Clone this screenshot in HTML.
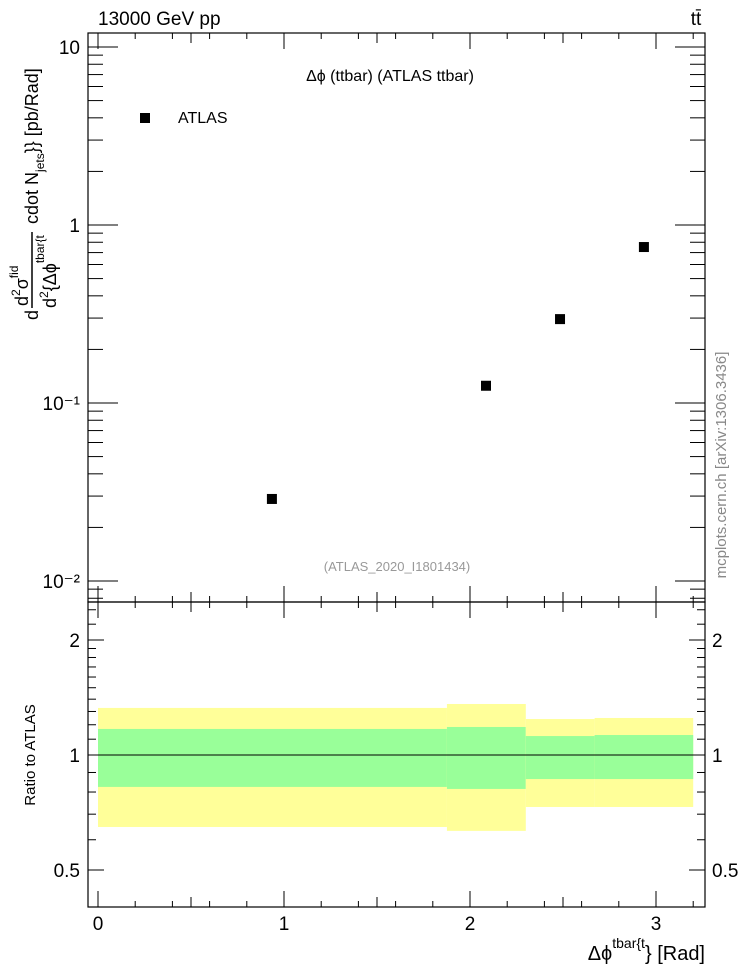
<!DOCTYPE html>
<html><head><meta charset="utf-8">
<style>
html,body{margin:0;padding:0;background:#fff;}
svg{display:block;font-family:"Liberation Sans",Arial,sans-serif;}
</style></head>
<body>
<svg id="chart" width="746" height="972" viewBox="0 0 746 972" xmlns="http://www.w3.org/2000/svg">
<g id="bands"></g>
<g id="ticks"></g>
<g id="points"></g>
<rect x="88" y="33" width="617" height="569" fill="none" stroke="#000" stroke-width="1.2"/>
<rect x="88" y="602" width="617" height="305" fill="none" stroke="#000" stroke-width="1.2"/>
<text x="98" y="25" font-size="19">13000 GeV pp</text>
<text x="696" y="25" font-size="19" text-anchor="middle">tt̄</text>
<text x="390" y="81" font-size="16" text-anchor="middle">Δϕ (ttbar) (ATLAS ttbar)</text>
<text x="397" y="571" font-size="13" fill="#999" text-anchor="middle">(ATLAS_2020_I1801434)</text>
<rect x="140" y="113" width="10" height="10" fill="#000"/>
<text x="178" y="123" font-size="16">ATLAS</text>
<text transform="translate(726,465) rotate(-90)" font-size="15" fill="#888" text-anchor="middle">mcplots.cern.ch [arXiv:1306.3436]</text>
<text transform="translate(35,755) rotate(-90)" font-size="15" text-anchor="middle">Ratio to ATLAS</text>
<g transform="translate(38,320) rotate(-90)" font-size="18">
<text x="0" y="0">d</text>
<line x1="12" y1="-6" x2="88" y2="-6" stroke="#000" stroke-width="1.5"/>
<text x="14" y="-10" font-size="18">d<tspan font-size="12" dy="-8">2</tspan><tspan dy="8">σ</tspan><tspan font-size="12" dy="-10">fid</tspan></text>
<text x="12" y="18" font-size="18">d<tspan font-size="12" dy="-8">2</tspan><tspan dy="8">{Δϕ</tspan><tspan font-size="12" dy="-12">tbar{t</tspan></text>
<text x="96" y="0">cdot N<tspan font-size="12" dy="6">jets</tspan><tspan dy="-6">}} [pb/Rad]</tspan></text>
</g>
<text x="705" y="960" font-size="20" text-anchor="end">Δϕ<tspan font-size="14" dy="-12">tbar{t</tspan><tspan dy="12">} [Rad]</tspan></text>
<line x1="98" y1="755" x2="693" y2="755" stroke="#000" stroke-width="1"/>
</svg>
<script>
const xVals=[0.935,2.086,2.484,2.935];
const yVals=[0.0289,0.125,0.296,0.752];
const binEdges=[0,1.876,2.30,2.67,3.2];
const yellowHi=[1.328,1.36,1.242,1.25];
const yellowLo=[0.648,0.633,0.731,0.731];
const greenHi=[1.17,1.184,1.121,1.128];
const greenLo=[0.825,0.815,0.865,0.865];
const xTickLabels=["0","1","2","3"];
const mainTickLabels=[{v:10,t:"10"},{v:1,t:"1"},{v:0.1,t:"10⁻¹"},{v:0.01,t:"10⁻²"}];
const ratioTickLabels=[{v:2,t:"2"},{v:1,t:"1"},{v:0.5,t:"0.5"}];

const NS="http://www.w3.org/2000/svg";
function X(v){return 98+186*v;}
function Y(v){return 581-178*(Math.log10(v)+2);}
function R(v){return 755-115*Math.log2(v);}
function mk(tag,attrs,parent){const e=document.createElementNS(NS,tag);for(const k in attrs)e.setAttribute(k,attrs[k]);parent.appendChild(e);return e;}
const bands=document.getElementById('bands'),ticks=document.getElementById('ticks'),pts=document.getElementById('points');
for(let i=0;i<yellowHi.length;i++){
  const x0=X(binEdges[i]),x1=X(binEdges[i+1]);
  const y=mk('rect',{x:x0,y:R(yellowHi[i]),width:x1-x0,height:R(yellowLo[i])-R(yellowHi[i]),fill:'#ffff99'},bands);
  
  
  const g=mk('rect',{x:x0,y:R(greenHi[i]),width:x1-x0,height:R(greenLo[i])-R(greenHi[i]),fill:'#99ff99'},bands);
  
  
}
for(let i=0;i<xVals.length;i++){
  const p=mk('rect',{x:X(xVals[i])-5,y:Y(yVals[i])-5,width:10,height:10,fill:'#000'},pts);
  
  
}
const st={stroke:'#000','stroke-width':1};
// x ticks
for(let v=0;v<=3.25;v+=0.1){
  const vv=Math.round(v*10)/10, major=Math.abs(vv-Math.round(vv))<1e-6;
  const half=Math.abs(vv*2-Math.round(vv*2))<1e-6;
  const L=major?16:(half?10:6);
  const x=X(vv);
  if(vv%0.2>0.05&&vv%0.2<0.15&&!half) continue;
  mk('line',Object.assign({x1:x,x2:x,y1:602,y2:602-L},st),ticks);
  mk('line',Object.assign({x1:x,x2:x,y1:602,y2:602+L},st),ticks);
  mk('line',Object.assign({x1:x,x2:x,y1:33,y2:33+L},st),ticks);
  mk('line',Object.assign({x1:x,x2:x,y1:907,y2:907-L},st),ticks);
}
xTickLabels.forEach(t=>{const e=mk('text',{x:X(+t),y:930,'font-size':19,'text-anchor':'middle'},ticks);e.textContent=t;
  
  });
// main y ticks
for(let d=-3;d<=1;d++)for(let m=1;m<=9;m++){
  const v=m*Math.pow(10,d),y=Y(v);if(y<33||y>602)continue;
  const L=m==1?30:15;
  mk('line',Object.assign({x1:88,x2:88+L,y1:y,y2:y},st),ticks);
  mk('line',Object.assign({x1:705,x2:705-L,y1:y,y2:y},st),ticks);
}
mainTickLabels.forEach(o=>{const e=mk('text',{x:80,y:Y(o.v)+7,'font-size':19,'text-anchor':'end'},ticks);e.textContent=o.t;
  
  });
// ratio y ticks
[0.4,0.5,0.6,0.7,0.8,0.9,1,1.1,1.2,1.3,1.4,1.5,1.6,1.7,1.8,1.9,2,2.2,2.4].forEach(v=>{
  const y=R(v);if(y<602||y>907)return;
  const L=(v==0.5||v==1||v==2)?16:8;
  mk('line',Object.assign({x1:88,x2:88+L,y1:y,y2:y},st),ticks);
  mk('line',Object.assign({x1:705,x2:705-L,y1:y,y2:y},st),ticks);
});
ratioTickLabels.forEach(o=>{
  const a=mk('text',{x:80,y:R(o.v)+7,'font-size':19,'text-anchor':'end'},ticks);a.textContent=o.t;
  
  
  const b=mk('text',{x:712,y:R(o.v)+7,'font-size':19},ticks);b.textContent=o.t;
  
  
});
</script>
</body></html>
